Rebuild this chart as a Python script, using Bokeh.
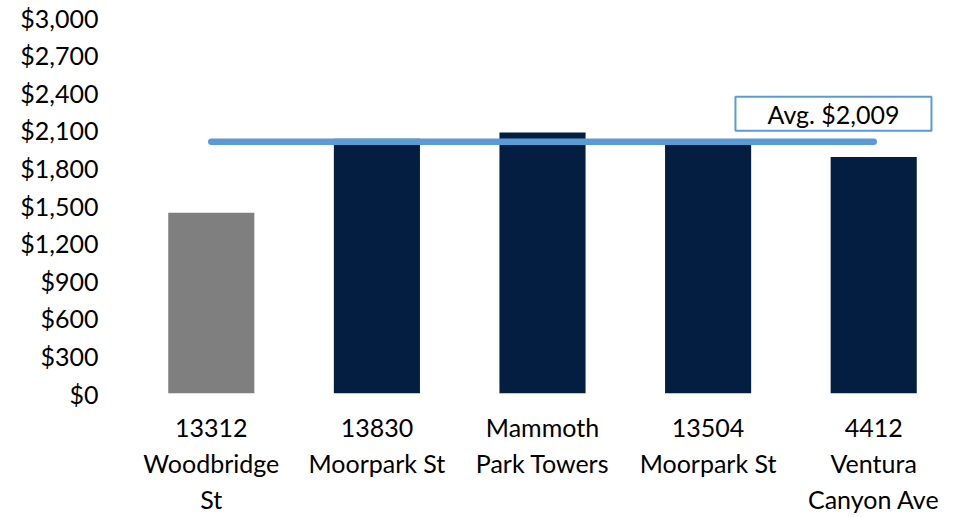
from bokeh.plotting import figure
from bokeh.models import FixedTicker, NumeralTickFormatter, Label, Range1d
from bokeh.embed import file_html
from bokeh.resources import INLINE

# ---- data ----
properties = ["13312\nWoodbridge\nSt", "13830\nMoorpark St", "Mammoth\nPark Towers",
              "13504\nMoorpark St", "4412\nVentura\nCanyon Ave"]
rents = [1442, 2032, 2082, 1992, 1888]
bar_colors = ["#7F7F7F", "#041E42", "#041E42", "#041E42", "#041E42"]
avg_rent = 2009
avg_label = "Avg. $2,009"
y_ticks = [0, 300, 600, 900, 1200, 1500, 1800, 2100, 2400, 2700, 3000]

FONT = "Lato"
idx = list(range(len(properties)))

p = figure(width=956, height=516, output_backend="svg", toolbar_location=None,
           x_range=Range1d(-0.5, len(properties) - 0.5),
           y_range=Range1d(0, 3136),
           min_border_left=128, min_border_right=0, min_border_top=0,
           min_border_bottom=10)
p.outline_line_color = None
p.xgrid.grid_line_color = None
p.ygrid.grid_line_color = None

p.vbar(x=idx, top=rents, width=0.52, fill_color=bar_colors, line_color=None)
p.line(x=[idx[0], idx[-1]], y=[avg_rent, avg_rent], line_width=6.5,
       line_color="#5B9BD5", line_cap="round")

lab = Label(x=3.757, y=2232, text=avg_label, text_align="center",
            text_baseline="middle", text_font=FONT, text_font_size="25px",
            text_color="#000000", border_line_color="#5B9BD5", border_line_width=2,
            background_fill_color="white", padding=(32, 2))
p.add_layout(lab)

# y axis
p.yaxis.ticker = FixedTicker(ticks=y_ticks)
p.yaxis.formatter = NumeralTickFormatter(format="$0,0")
p.yaxis.axis_line_color = None
p.yaxis.major_tick_line_color = None
p.yaxis.minor_tick_line_color = None
p.yaxis.major_label_text_font = FONT
p.yaxis.major_label_text_font_size = "25px"
p.yaxis.major_label_text_color = "#000000"
p.yaxis.major_label_standoff = 24

# x axis
p.xaxis.ticker = FixedTicker(ticks=idx)
p.xaxis.major_label_overrides = {i: s for i, s in zip(idx, properties)}
p.xaxis.axis_line_color = None
p.xaxis.major_tick_line_color = None
p.xaxis.minor_tick_line_color = None
p.xaxis.major_label_text_font = FONT
p.xaxis.major_label_text_font_size = "25px"
p.xaxis.major_label_text_color = "#000000"
p.xaxis.major_label_text_line_height = 1.2
p.xaxis.major_label_standoff = 12

open("out.html", "w").write(file_html(p, INLINE))
